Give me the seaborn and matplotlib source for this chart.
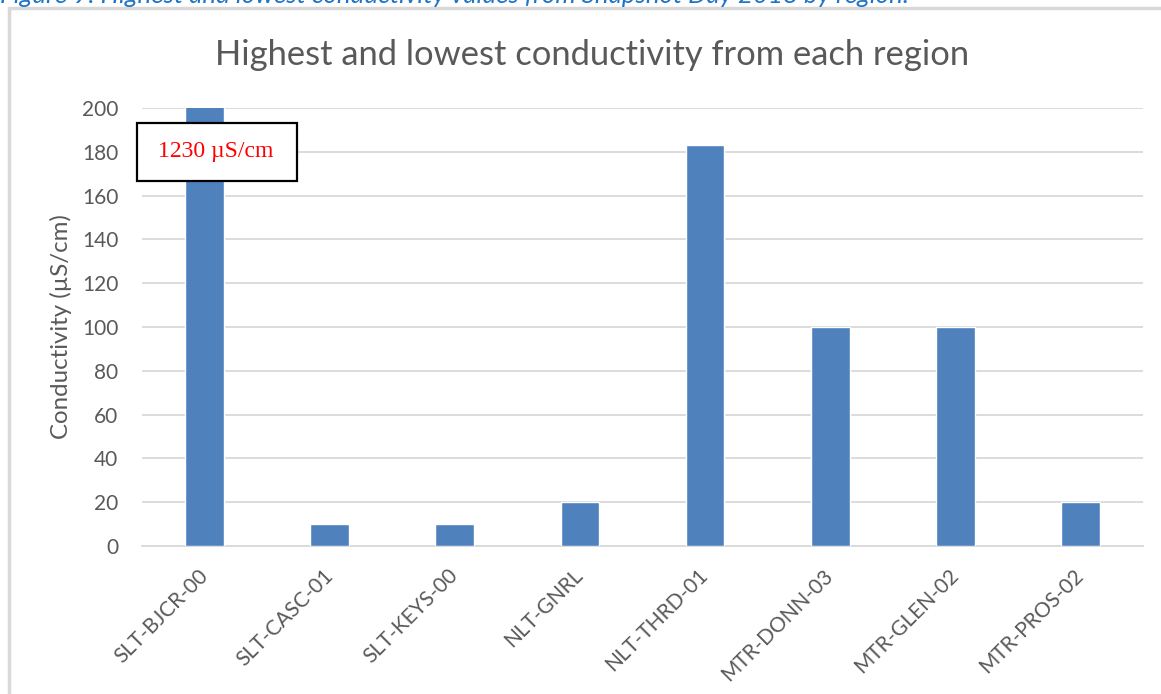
import matplotlib
matplotlib.use("Agg")
import matplotlib.pyplot as plt
import seaborn as sns
import pandas as pd
from matplotlib.patches import Rectangle

sites = ["SLT-BJCR-00", "SLT-CASC-01", "SLT-KEYS-00", "NLT-GNRL",
         "NLT-THRD-01", "MTR-DONN-03", "MTR-GLEN-02", "MTR-PROS-02"]
conductivity = [1230, 10, 10, 20, 183, 100, 100, 20]
yticks = [0, 20, 40, 60, 80, 100, 120, 140, 160, 180, 200]

df = pd.DataFrame({"site": sites, "cond": conductivity})

sns.set_theme(style="white")
plt.rcParams['font.family'] = ['Lato', 'DejaVu Sans']

fig = plt.figure(figsize=(11.61, 6.94), dpi=100)
ax = fig.add_axes([142/1161, 1-546/694, (1143-142)/1161, (546-108)/694])

sns.barplot(data=df, x="site", y="cond", color="#4F81BD", saturation=1,
            width=0.31, ax=ax, zorder=3)
ax.set_ylim(0, 200)
ax.set_yticks(yticks)
ax.set_xlim(-0.5, len(sites) - 0.5)
ax.grid(axis="y", color="#d9d9d9", linewidth=1.3, zorder=0)
for s in ["top", "right", "left"]:
    ax.spines[s].set_visible(False)
ax.spines["bottom"].set_color("#d9d9d9")
ax.spines["bottom"].set_linewidth(1.3)
ax.tick_params(axis="both", length=0, colors="#595959", labelsize=15)
ax.tick_params(axis="y", pad=17)
ax.set_xticks(range(len(sites)))
ax.set_xticklabels(sites, rotation=45, ha="right", va="center", rotation_mode="anchor")
ax.tick_params(axis="x", pad=19)
ax.set_xlabel("")
ax.set_ylabel("Conductivity (µS/cm)", fontsize=17.3, color="#595959")
ax.yaxis.set_label_coords(-70/1001, 0.5)

fig.text(592/1161, 1-55/694, "Highest and lowest conductivity from each region",
         ha="center", va="center", fontsize=24.8, color="#595959")

# chart border
fig.add_artist(Rectangle((9/1161, -0.1), 1.2, 1-8/694 + 0.1, transform=fig.transFigure,
                         fill=False, edgecolor="#d9d9d9", linewidth=2.5))

# caption (cut off at top, as in the source)
fig.text(0, 1-3/694, "Figure 9: Highest and lowest conductivity values from Snapshot Day 2018 by region.",
         ha="left", va="baseline", fontsize=18.6, color="#1F74C6", style="italic")

# annotation box
fig.add_artist(Rectangle((137/1161, 1-181/694), 160/1161, 58/694, transform=fig.transFigure,
                         facecolor="white", edgecolor="black", linewidth=1.6, zorder=10))
fig.text(216/1161, 1-152/694, "1230 µS/cm", ha="center", va="center", fontsize=17,
         color="red", family=["Liberation Serif", "DejaVu Serif"], zorder=11)

fig.savefig("out.png", dpi=100)
